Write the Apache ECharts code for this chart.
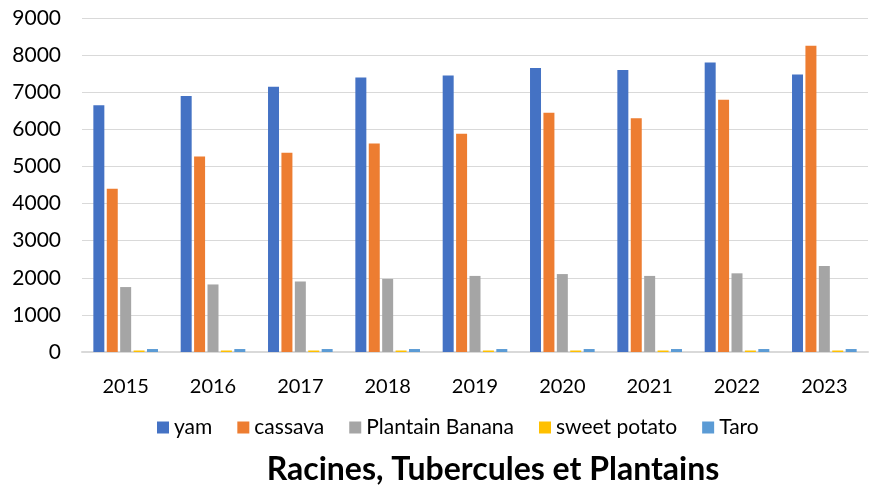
<!DOCTYPE html>
<html>
<head>
<meta charset="utf-8">
<script src="https://cdn.jsdelivr.net/npm/echarts@6/dist/echarts.min.js"></script>
<style>
  html, body { margin: 0; padding: 0; background: #fff; }
  #chart { width: 871px; height: 486px; }
</style>
</head>
<body>
<div id="chart"></div>
<script>
const years = ['2015', '2016', '2017', '2018', '2019', '2020', '2021', '2022', '2023']
const yam = [6650, 6900, 7150, 7400, 7450, 7650, 7600, 7800, 7480]
const cassava = [4400, 5270, 5370, 5620, 5880, 6450, 6300, 6800, 8250]
const plantainBanana = [1750, 1820, 1900, 1970, 2050, 2100, 2050, 2120, 2320]
const sweetPotato = [40, 40, 40, 40, 40, 40, 40, 40, 40]
const taro = [80, 80, 80, 80, 80, 80, 80, 80, 80]

const chart = echarts.init(document.getElementById('chart'))

const font = 'Lato, "Open Sans", sans-serif'

const bar = (name, data, color) => ({
  name,
  type: 'bar',
  data,
  barGap: '22%',
  barCategoryGap: '26%',
  itemStyle: { color }
})

chart.setOption({
  animation: false,
  title: {
    text: 'Racines, Tubercules et Plantains',
    left: 488,
    textAlign: 'center',
    top: 449,
    textStyle: { fontFamily: font, fontSize: 32, fontWeight: 'bold', color: '#000' }
  },
  legend: {
    left: 152,
    top: 412,
    itemWidth: 12,
    itemHeight: 12,
    itemGap: 25,
    icon: 'rect',
    textStyle: { fontFamily: font, fontSize: 21, color: '#000' },
    itemStyle: { borderWidth: 0 }
  },
  grid: { left: 82, right: 3, top: 18, bottom: 134 },
  xAxis: {
    type: 'category',
    data: years,
    axisTick: { show: false },
    axisLine: { lineStyle: { color: '#d9d9d9', width: 2 } },
    axisLabel: { fontFamily: font, fontSize: 20, color: '#000', margin: 25 }
  },
  yAxis: {
    type: 'value',
    min: 0,
    max: 9000,
    interval: 1000,
    axisLabel: { fontFamily: font, fontSize: 21, color: '#000', margin: 21, formatter: (v) => String(v) },
    splitLine: { lineStyle: { color: '#d9d9d9', width: 1 } }
  },
  series: [
    bar('yam', yam, '#4472c4'),
    bar('cassava', cassava, '#ed7d31'),
    bar('Plantain Banana', plantainBanana, '#a5a5a5'),
    bar('sweet potato', sweetPotato, '#ffc000'),
    bar('Taro', taro, '#5b9bd5')
  ]
})

window.addEventListener('resize', () => chart.resize())
</script>
</body>
</html>
